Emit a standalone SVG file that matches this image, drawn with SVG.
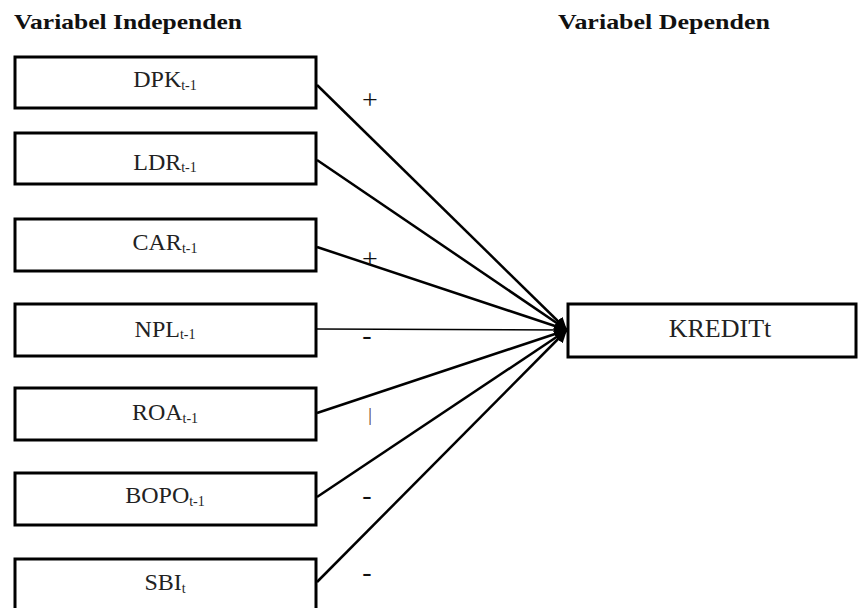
<svg xmlns="http://www.w3.org/2000/svg" width="858" height="608" viewBox="0 0 858 608">
<style>
.box{fill:#fff;stroke:#000;stroke-width:3}
.lbl{font-family:"Liberation Serif","Times New Roman",serif;font-size:24px;fill:#222;text-anchor:middle}
.sub{font-size:14px}
.hdr{font-family:"Liberation Serif","Times New Roman",serif;font-size:21px;font-weight:bold;fill:#111}
.ln{stroke:#000;stroke-width:2.5;fill:none;marker-end:url(#ah)}
.sign{font-family:"Liberation Serif","Times New Roman",serif;font-size:28px;fill:#111;text-anchor:middle}
</style>
<defs>
<marker id="ah" viewBox="0 0 10 10" refX="10" refY="5" markerWidth="5" markerHeight="5" orient="auto" markerUnits="strokeWidth">
<path d="M0,0 L10,5 L0,10 Z" fill="#000"/>
</marker>
</defs>
<rect width="858" height="608" fill="#fff"/>
<text class="hdr" x="14" y="29" textLength="228" lengthAdjust="spacingAndGlyphs">Variabel Independen</text>
<text class="hdr" x="558" y="29" textLength="212" lengthAdjust="spacingAndGlyphs">Variabel Dependen</text>
<g id="connectors">
<line class="ln" x1="317" y1="85" x2="567" y2="330"/>
<line class="ln" x1="317" y1="160" x2="567" y2="330"/>
<line class="ln" x1="317" y1="247" x2="567" y2="330"/>
<line class="ln" x1="317" y1="329" x2="567" y2="330" style="stroke-width:1.6"/>
<line class="ln" x1="317" y1="413" x2="567" y2="330"/>
<line class="ln" x1="317" y1="497" x2="567" y2="330"/>
<line class="ln" x1="317" y1="582" x2="567" y2="330"/>
<text class="sign" x="370" y="109">+</text>
<text class="sign" x="370" y="268">+</text>
<text class="sign" x="367" y="344">-</text>
<text class="sign" x="370" y="421" style="font-size:18px;fill:#4a2a2a">|</text>
<text class="sign" x="367" y="504">-</text>
<text class="sign" x="367" y="581">-</text>
</g>
<g id="dpk"><rect class="box" x="15" y="57" width="301" height="51"/><text class="lbl" x="165" y="87">DPK<tspan class="sub" dy="3">t-1</tspan></text></g>
<g id="ldr"><rect class="box" x="15" y="133" width="301" height="51"/><text class="lbl" x="165" y="170">LDR<tspan class="sub" dy="2">t-1</tspan></text></g>
<g id="car"><rect class="box" x="15" y="219" width="301" height="52"/><text class="lbl" x="165" y="250">CAR<tspan class="sub" dy="3">t-1</tspan></text></g>
<g id="npl"><rect class="box" x="15" y="304" width="301" height="52"/><text class="lbl" x="165" y="337">NPL<tspan class="sub" dy="2">t-1</tspan></text></g>
<g id="roa"><rect class="box" x="15" y="388" width="301" height="52"/><text class="lbl" x="165" y="420">ROA<tspan class="sub" dy="3">t-1</tspan></text></g>
<g id="bopo"><rect class="box" x="15" y="473" width="301" height="52"/><text class="lbl" x="165" y="503">BOPO<tspan class="sub" dy="3">t-1</tspan></text></g>
<g id="sbi"><rect class="box" x="15" y="559" width="301" height="60"/><text class="lbl" x="165" y="590">SBI<tspan class="sub" dy="3">t</tspan></text></g>
<g id="kredit"><rect class="box" x="568" y="304" width="288" height="53"/><text class="lbl" x="720" y="337" style="font-size:26px">KREDITt</text></g>
</svg>
